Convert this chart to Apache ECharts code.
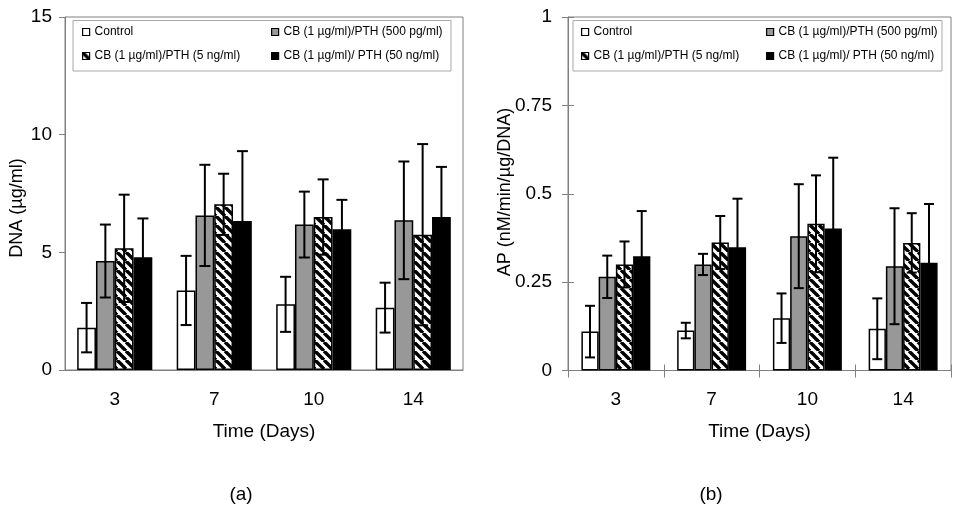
<!DOCTYPE html>
<html>
<head>
<meta charset="utf-8">
<script src="https://cdn.jsdelivr.net/npm/echarts@6/dist/echarts.min.js"></script>
<style>html,body{margin:0;padding:0;background:#fff;}#c{width:963px;height:516px;}</style>
</head>
<body>
<div id="c"></div>
<script>
// ---- data ----
const categories = ['3', '7', '10', '14'];
const seriesNames = ['Control', 'CB (1 µg/ml)/PTH (500 pg/ml)', 'CB (1 µg/ml)/PTH (5 ng/ml)', 'CB (1 µg/ml)/ PTH (50 ng/ml)'];

const dnaControl = [1.80, 3.38, 2.79, 2.65];
const dnaControlErr = [1.05, 1.47, 1.17, 1.06];
const dna500pg = [4.63, 6.57, 6.18, 6.36];
const dna500pgErr = [1.55, 2.15, 1.40, 2.50];
const dna5ng = [5.17, 7.04, 6.50, 5.75];
const dna5ngErr = [2.28, 1.30, 1.60, 3.85];
const dna50ng = [4.79, 6.33, 5.98, 6.50];
const dna50ngErr = [1.65, 2.97, 1.25, 2.13];

const apControl = [0.110, 0.113, 0.148, 0.118];
const apControlErr = [0.073, 0.022, 0.070, 0.086];
const ap500pg = [0.265, 0.300, 0.380, 0.295];
const ap500pgErr = [0.060, 0.030, 0.147, 0.164];
const ap5ng = [0.300, 0.362, 0.415, 0.361];
const ap5ngErr = [0.065, 0.075, 0.137, 0.084];
const ap50ng = [0.323, 0.349, 0.402, 0.305];
const ap50ngErr = [0.128, 0.137, 0.200, 0.166];

const dnaTicks = [0, 5, 10, 15];
const apTicks = [0, 0.25, 0.5, 0.75, 1];

// ---- styles ----
const FONT = "'Liberation Sans', Arial, sans-serif";
function hatch() {
  const s = 9;
  const cv = document.createElement('canvas');
  cv.width = s; cv.height = s;
  const ctx = cv.getContext('2d');
  ctx.fillStyle = '#fff';
  ctx.fillRect(0, 0, s, s);
  ctx.strokeStyle = '#000';
  ctx.lineWidth = 3.4;
  for (const k of [-s, 0, s]) {
    ctx.beginPath();
    ctx.moveTo(k, 0);
    ctx.lineTo(k + s, s);
    ctx.stroke();
  }
  return { image: cv, repeat: 'repeat' };
}
const fills = ['#ffffff', '#989898', hatch(), '#000000'];

const dnaVals = [dnaControl, dna500pg, dna5ng, dna50ng];
const dnaErrs = [dnaControlErr, dna500pgErr, dna5ngErr, dna50ngErr];
const apVals = [apControl, ap500pg, ap5ng, ap50ng];
const apErrs = [apControlErr, ap500pgErr, ap5ngErr, ap50ngErr];

const GAP_L = 0.245, GAP_R = 0.28;

const series = [];
function addChart(vals, errs, xi, yi, gap, cap) {
  vals.forEach((v, i) => {
    series.push({
      type: 'bar', name: seriesNames[i], xAxisIndex: xi, yAxisIndex: yi,
      data: v, barGap: '0%', barCategoryGap: (gap * 100) + '%',
      itemStyle: { color: fills[i], borderColor: '#000', borderWidth: 1.5 },
      emphasis: { disabled: true }, z: 2
    });
  });
  vals.forEach((v, i) => {
    series.push({
      type: 'custom', name: 'err' + xi + '_' + i, xAxisIndex: xi, yAxisIndex: yi, z: 5,
      data: v.map((val, k) => [k, val, errs[i][k]]),
      renderItem: function (params, api) {
        const c = api.value(0), m = api.value(1), e = api.value(2);
        const base = api.coord([c, 0]);
        const band = api.size([1, 0])[0];
        const w = band * (1 - gap) / 4;
        const cx = base[0] + (i - 1.5) * w;
        const yt = api.coord([c, m + e])[1];
        const yb = api.coord([c, m - e])[1];
        const st = { stroke: '#000', lineWidth: 2 };
        return { type: 'group', children: [
          { type: 'line', shape: { x1: cx, y1: yt, x2: cx, y2: yb }, style: st },
          { type: 'line', shape: { x1: cx - cap / 2, y1: yt, x2: cx + cap / 2, y2: yt }, style: st },
          { type: 'line', shape: { x1: cx - cap / 2, y1: yb, x2: cx + cap / 2, y2: yb }, style: st }
        ]};
      }
    });
  });
}
addChart(dnaVals, dnaErrs, 0, 0, GAP_L, 11);
addChart(apVals, apErrs, 1, 1, GAP_R, 10);

function legendAt(name, left, top) {
  return {
    data: [name], left: left, top: top, padding: 0, icon: 'rect',
    itemWidth: 7, itemHeight: 7, selectedMode: false,
    itemStyle: { borderColor: '#000', borderWidth: 1.2 },
    textStyle: { fontFamily: FONT, fontSize: 12, color: '#000' }
  };
}
const legends = [
  legendAt(seriesNames[0], 82, 26), legendAt(seriesNames[1], 271, 26),
  legendAt(seriesNames[2], 82, 50), legendAt(seriesNames[3], 271, 50),
  legendAt(seriesNames[0], 581, 26), legendAt(seriesNames[1], 766, 26),
  legendAt(seriesNames[2], 581, 50), legendAt(seriesNames[3], 766, 50)
];

const gray = '#808080';
const axisLbl = { fontFamily: FONT, fontSize: 19, color: '#000' };

const option = {
  animation: false,
  backgroundColor: '#fff',
  textStyle: { fontFamily: FONT },
  grid: [
    { left: 65, top: 17, width: 398, height: 353, show: true, borderColor: gray, borderWidth: 1 },
    { left: 568, top: 17, width: 383, height: 353.5, show: true, borderColor: gray, borderWidth: 1 }
  ],
  xAxis: [
    { type: 'category', gridIndex: 0, position: 'bottom', data: categories,
      axisLine: { lineStyle: { color: gray, width: 1 } }, axisTick: { show: false },
      axisLabel: Object.assign({ margin: 20 }, axisLbl),
      name: 'Time (Days)', nameLocation: 'middle', nameGap: 52,
      nameTextStyle: { fontFamily: FONT, fontSize: 19, color: '#000' } },
    { type: 'category', gridIndex: 1, position: 'bottom', data: categories,
      axisLine: { lineStyle: { color: gray, width: 1 } },
      axisTick: { show: true, length: 7, lineStyle: { color: gray } },
      axisLabel: Object.assign({ margin: 20 }, axisLbl),
      name: 'Time (Days)', nameLocation: 'middle', nameGap: 52,
      nameTextStyle: { fontFamily: FONT, fontSize: 19, color: '#000' } },
    { type: 'category', gridIndex: 1, position: 'bottom', offset: 0, data: categories,
      axisLine: { show: false }, axisLabel: { show: false },
      axisTick: { show: true, inside: true, length: 6, lineStyle: { color: gray } } }
  ],
  yAxis: [
    { type: 'value', gridIndex: 0, position: 'left', min: dnaTicks[0], max: dnaTicks[dnaTicks.length - 1], interval: 5,
      splitLine: { show: false },
      axisLine: { show: true, lineStyle: { color: gray } },
      axisTick: { show: true, length: 6, lineStyle: { color: gray } },
      axisLabel: Object.assign({ margin: 13 }, axisLbl) },
    { type: 'value', gridIndex: 1, position: 'left', min: apTicks[0], max: apTicks[apTicks.length - 1], interval: 0.25,
      splitLine: { show: false },
      axisLine: { show: true, lineStyle: { color: gray } },
      axisTick: { show: true, length: 6, lineStyle: { color: gray } },
      axisLabel: Object.assign({ margin: 16 }, axisLbl) },
    { type: 'value', gridIndex: 1, position: 'left', offset: 0, min: 0, max: 1, interval: 0.25,
      splitLine: { show: false }, axisLine: { show: false }, axisLabel: { show: false },
      axisTick: { show: true, inside: true, length: 6, lineStyle: { color: gray } } }
  ],
  legend: legends,
  title: [
    { text: '(a)', left: 241, top: 485, textAlign: 'center', padding: 0,
      textStyle: { fontFamily: FONT, fontSize: 19, fontWeight: 'normal', color: '#000' } },
    { text: '(b)', left: 711, top: 485, textAlign: 'center', padding: 0,
      textStyle: { fontFamily: FONT, fontSize: 19, fontWeight: 'normal', color: '#000' } }
  ],
  graphic: [
    { type: 'rect', shape: { x: 73, y: 20.5, width: 378, height: 50.5 }, z: -1,
      style: { fill: '#fff', stroke: '#a8a8a8', lineWidth: 1 } },
    { type: 'rect', shape: { x: 573, y: 20.5, width: 369, height: 50.5 }, z: -1,
      style: { fill: '#fff', stroke: '#a8a8a8', lineWidth: 1 } },
    { type: 'text', x: 17, y: 208, rotation: Math.PI / 2,
      style: { text: 'DNA (µg/ml)', font: "18px 'Liberation Sans', Arial, sans-serif", fill: '#000', textAlign: 'center', textVerticalAlign: 'middle' } },
    { type: 'text', x: 505, y: 192, rotation: Math.PI / 2,
      style: { text: 'AP (nM/min/µg/DNA)', font: "18px 'Liberation Sans', Arial, sans-serif", fill: '#000', textAlign: 'center', textVerticalAlign: 'middle' } }
  ],
  series: series
};
const chart = echarts.init(document.getElementById('c'), null, { renderer: 'canvas' });
chart.setOption(option);
</script>
</body>
</html>
